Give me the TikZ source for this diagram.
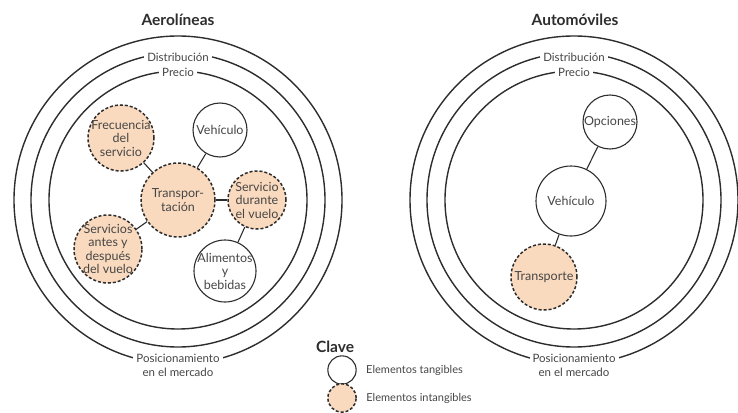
\documentclass[tikz,border=0pt]{standalone}
\usepackage{fontspec}
\setmainfont{Lato}
\usetikzlibrary{positioning}
\definecolor{durazno}{RGB}{250,218,190}
\definecolor{trazo}{RGB}{45,45,45}
\definecolor{letra}{RGB}{70,70,70}

\tikzset{
	anillo/.style={draw=trazo, line width=1.4pt},
	tangible/.style={circle, draw=trazo, line width=1.1pt, fill=white, align=center, inner sep=-10pt, text=letra, font=\fontsize{12.5}{13.5}\selectfont},
	intangible/.style={tangible, fill=durazno, line width=1.5pt, dash pattern=on 3pt off 2pt},
	etiqueta/.style={fill=white, inner xsep=3pt, inner ysep=1pt, align=center, text=letra, font=\fontsize{11.5}{15}\selectfont},
	titulo/.style={text=trazo, font=\bfseries\fontsize{15.5}{16}\selectfont},
	enlace/.style={draw=trazo, line width=1.1pt}
}

\begin{document}
\begin{tikzpicture}[x=1pt,y=-1pt]
			\useasboundingbox (0,0) rectangle (738,412);
			
			% draw titles
			\node[titulo] (tituloA) at (178,20) {Aerolíneas};
			\node[titulo] (tituloB) at (575,20) {Automóviles};
			
			% draw rings
			\foreach \cx in {178,574}{
				\draw[anillo] (\cx,200) circle[radius=164pt];
				\draw[anillo] (\cx,200) circle[radius=147pt];
				\draw[anillo] (\cx,200) circle[radius=129pt];
			}
			
			% ring labels
			\node[etiqueta] (distA) at (178,57) {Distribución};
			\node[etiqueta] (precioA) at (178,72) {Precio};
			\node[etiqueta] (posA) at (178,365) {Posicionamiento\\[-1pt]en el mercado};
			\node[etiqueta] (distB) at (574,57) {Distribución};
			\node[etiqueta] (precioB) at (574,72) {Precio};
			\node[etiqueta] (posB) at (574,365) {Posicionamiento\\[-1pt]en el mercado};
			
			% draw nodes (aerolineas)
			\node[intangible, minimum size=66pt] (frec) at (121,138) {Frecuencia\\del\\servicio};
			\node[tangible, minimum size=54pt] (vehA) at (220,130) {Vehículo};
			\node[intangible, minimum size=74pt] (transA) at (178,200) {Transpor-\\tación};
			\node[intangible, minimum size=58pt] (durante) at (257,200) {Servicio\\durante\\el vuelo};
			\node[intangible, minimum size=68pt] (antes) at (108,249) {Servicios\\antes y\\después\\del vuelo};
			\node[tangible, minimum size=62pt] (alim) at (225,271) {Alimentos\\y\\bebidas};
			
			\draw[enlace] (transA) -- (frec);
			\draw[enlace] (transA) -- (vehA);
			\draw[enlace] (transA) -- (durante);
			\draw[enlace] (transA) -- (antes);
			\draw[enlace] (durante) -- (alim);
			
			% draw nodes (automoviles)
			\node[tangible, minimum size=54pt] (opc) at (610,122) {Opciones};
			\node[tangible, minimum size=70pt] (vehB) at (571,201) {Vehículo};
			\node[intangible, minimum size=66pt] (transB) at (544,277) {Transporte};
			
			\draw[enlace] (vehB) -- (opc);
			\draw[enlace] (vehB) -- (transB);
			
			% key
			\node[titulo] (clave) at (335,347) {Clave};
			\node[tangible, minimum size=18pt] (claveT) at (342,370) {};
			\node[right=6pt of claveT, text=letra, font=\fontsize{11}{12}\selectfont] (textoT) {Elementos tangibles};
			\node[intangible, minimum size=18pt] (claveI) at (342,398) {};
			\node[right=6pt of claveI, text=letra, font=\fontsize{11}{12}\selectfont] (textoI) {Elementos intangibles};
		
\end{tikzpicture}
\end{document}
